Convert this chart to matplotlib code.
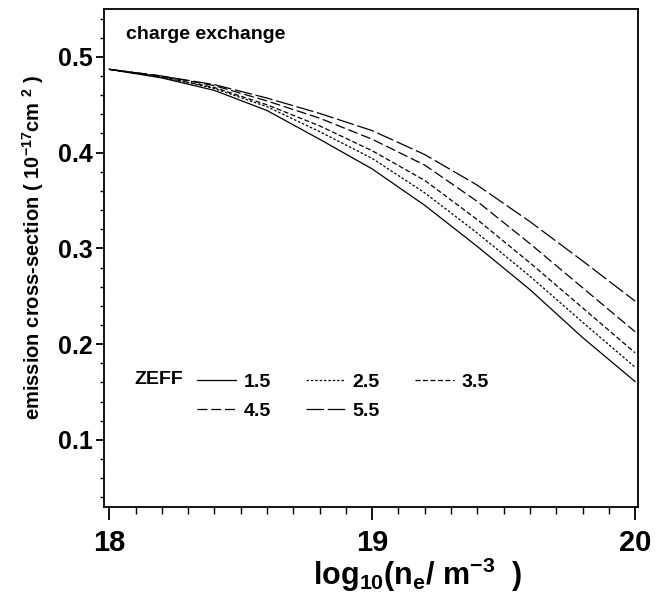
import numpy as np
import matplotlib.pyplot as plt
from matplotlib.ticker import MultipleLocator

# densidad log10(ne / m^-3)
x = [18.0, 18.2, 18.4, 18.6, 18.8, 19.0, 19.2, 19.4, 19.6, 19.8, 20.0]

# sección eficaz de emisión (1e-17 cm^2) para cada ZEFF
z15 = [0.487, 0.478, 0.465, 0.444, 0.414, 0.383, 0.345, 0.302, 0.257, 0.207, 0.161]
z25 = [0.487, 0.479, 0.467, 0.448, 0.422, 0.394, 0.358, 0.316, 0.271, 0.223, 0.176]
z35 = [0.487, 0.479, 0.468, 0.450, 0.428, 0.402, 0.371, 0.330, 0.285, 0.238, 0.191]
z45 = [0.487, 0.480, 0.470, 0.454, 0.436, 0.414, 0.387, 0.349, 0.305, 0.259, 0.213]
z55 = [0.487, 0.480, 0.471, 0.457, 0.441, 0.423, 0.398, 0.366, 0.328, 0.287, 0.245]

zeff = ['1.5', '2.5', '3.5', '4.5', '5.5']
series = [z15, z25, z35, z45, z55]
estilos = ['-', (0, (2, 1.5)), (0, (4, 2)), (0, (8, 3)), (0, (14, 3))]

plt.rcParams['font.family'] = ['Liberation Sans', 'DejaVu Sans']
plt.rcParams['font.weight'] = 'bold'
plt.rcParams['mathtext.fontset'] = 'custom'
plt.rcParams['mathtext.rm'] = 'Liberation Sans:bold'
plt.rcParams['mathtext.it'] = 'Liberation Sans:bold'
plt.rcParams['mathtext.bf'] = 'Liberation Sans:bold'

fig = plt.figure(figsize=(6.62, 5.96), dpi=100)
ax = fig.add_axes([104/662, 1-507/596, (638-104)/662, (507-9)/596])

lineas = []
for s, ls in zip(series, estilos):
    l, = ax.plot(x, s, color='black', lw=0.9, linestyle=ls)
    lineas.append(l)

ax.set_xlim(17.98, 20.011)
ax.set_ylim(0.03, 0.55)
ax.xaxis.set_major_locator(MultipleLocator(1))
ax.xaxis.set_minor_locator(MultipleLocator(0.1))
ax.yaxis.set_major_locator(MultipleLocator(0.1))
ax.yaxis.set_minor_locator(MultipleLocator(0.02))
ax.tick_params(axis='x', which='major', length=9, width=1.3, pad=7, labelsize=21)
ax.tick_params(axis='x', which='minor', length=5, width=1.0)
ax.tick_params(axis='y', which='major', length=6, width=1.3, pad=2, labelsize=18)
ax.tick_params(axis='y', which='minor', length=3, width=1.0)
ax.xaxis.set_major_formatter(plt.FuncFormatter(lambda v, p: '%d' % v))
ax.yaxis.set_major_formatter(plt.FuncFormatter(lambda v, p: '%.1f' % v))
for sp in ax.spines.values():
    sp.set_linewidth(1.3)

ax.text(0.042, 0.965, 'charge exchange', transform=ax.transAxes,
        fontsize=14, fontweight='bold', va='top', ha='left')

# leyenda ZEFF (orden por columnas para llenar por filas)
orden = [0, 3, 1, 4, 2]
leg = fig.legend([lineas[i] for i in orden], [zeff[i] for i in orden],
                 ncol=3, frameon=False, loc='upper left',
                 bbox_to_anchor=(197/662, 1-373/596), borderpad=0,
                 borderaxespad=0, handlelength=2.0, handletextpad=0.4,
                 columnspacing=1.8, labelspacing=0.6,
                 prop={'family': 'Liberation Sans', 'weight': 'bold', 'size': 14})
fig.text(134/662, 1-379/596, 'ZEFF', fontsize=14, fontweight='bold',
         va='center', ha='left')

fig.text(418/662, 1-575/596, r'log$_{10}$(n$_{e}$/ m$^{-3}$  )',
         fontsize=22, fontweight='bold', ha='center', va='center')
fig.text(33/662, 1-247/596, r'emission cross-section ( 10$^{-17}$cm $^{2}$ )',
         fontsize=14.5, fontweight='bold', rotation=90, ha='center', va='center')

plt.savefig('out.png', dpi=100)
